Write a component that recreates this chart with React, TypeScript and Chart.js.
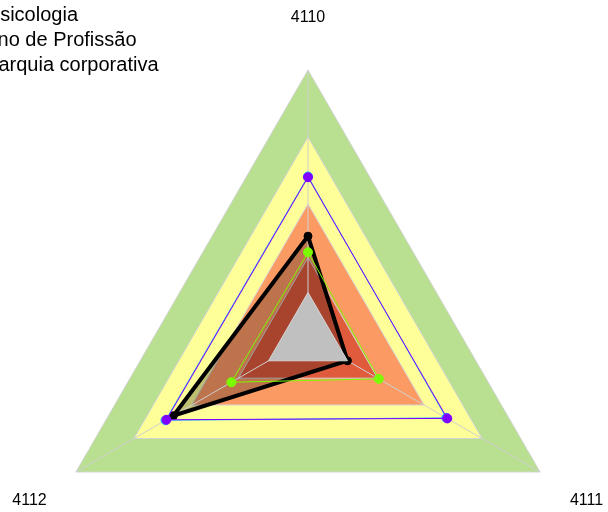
import React, { useEffect, useRef } from 'react';
import { Chart, registerables } from 'chart.js';

Chart.register(...registerables);

// Axis categories (clockwise from top)
const categories = ['4110', '4111', '4112'];

// Legend entries (cut off at the left edge in the reference)
const legendLabels = ['Psicologia', 'Ano de Profissão', 'Hierarquia corporativa'];

// Background band levels (outer to inner) and colours
const bandLevels = [100, 75, 50, 30, 17];
const bandColors = ['#b8e090', '#ffff99', '#fc9a64', '#e05a3c', '#c0c0c0'];

// Series values per category
const hierarquiaValues = [38, 17, 58];
const anoValues = [32, 30.5, 33];
const psicologiaValues = [60, 60, 61];
const psicologiaBValues = [60.3, 59.6, 61.4];

const FONT = '"Liberation Sans", Arial, Helvetica, sans-serif';

export default function App() {
  const ref = useRef<HTMLCanvasElement | null>(null);

  useEffect(() => {
    if (!ref.current) return;

    const bandDatasets = bandLevels.map((lvl, i) => ({
      label: 'band' + i,
      data: categories.map(() => lvl),
      backgroundColor: bandColors[i],
      borderColor: '#d4d4d4',
      borderWidth: 1,
      pointRadius: 0,
      fill: true,
      order: i === 4 ? 3 : 5 + (3 - i),
    }));

    const datasets: any[] = [
      {
        label: 'Psicologia',
        data: psicologiaValues,
        borderColor: '#8000ff',
        backgroundColor: '#8000ff',
        pointBackgroundColor: '#8000ff',
        pointBorderColor: '#8000ff',
        borderWidth: 1,
        pointRadius: 4.5,
        pointBorderWidth: 1,
        fill: false,
        order: 0,
      },
      {
        label: 'Psicologia B',
        data: psicologiaBValues,
        borderColor: '#22bbff',
        backgroundColor: '#22bbff',
        pointBackgroundColor: '#22bbff',
        pointBorderColor: '#22bbff',
        borderWidth: 1,
        pointRadius: 4.5,
        pointBorderWidth: 1,
        fill: false,
        order: 1,
      },
      {
        label: 'Ano de Profissão',
        data: anoValues,
        borderColor: '#7cfc00',
        backgroundColor: '#7cfc00',
        pointBackgroundColor: '#7cfc00',
        pointBorderColor: '#7cfc00',
        borderWidth: 1,
        pointRadius: 4.5,
        pointBorderWidth: 1,
        fill: false,
        order: 2,
      },
      {
        label: 'Hierarquia corporativa',
        data: hierarquiaValues,
        borderColor: '#000000',
        backgroundColor: 'rgba(0,0,0,0.25)',
        pointBackgroundColor: '#000000',
        pointBorderColor: '#000000',
        borderWidth: 4,
        pointRadius: 4,
        pointBorderWidth: 1,
        fill: true,
        order: 4,
      },
      ...bandDatasets,
    ];

    const blackIndex = 3;

    const overlay = {
      id: 'overlay',
      beforeDatasetDraw(chart: any, args: any) {
        if (args.index === blackIndex) {
          chart.scales.r.drawGrid(chart.chartArea);
        }
      },
      afterDraw(chart: any) {
        const ctx = chart.ctx as CanvasRenderingContext2D;
        const s = chart.scales.r;
        ctx.save();
        ctx.fillStyle = '#000';
        ctx.font = '16px ' + FONT;
        ctx.textAlign = 'center';
        ctx.textBaseline = 'middle';
        categories.forEach((c, i) => {
          const p = s.getPointPosition(i, s.drawingArea * 1.2);
          ctx.fillText(c, p.x, p.y + 1.5);
        });
        ctx.font = '20px ' + FONT;
        ctx.textAlign = 'right';
        ctx.textBaseline = 'alphabetic';
        const rights = [78, 136.5, 158.5];
        legendLabels.forEach((t, i) => {
          ctx.fillText(t, rights[i], 21 + i * 25);
        });
        ctx.restore();
      },
    };

    const chart = new Chart(ref.current, {
      type: 'radar',
      data: { labels: categories, datasets },
      options: {
        responsive: false,
        animation: false,
        events: [],
        layout: { padding: { left: 40, right: 32, top: 70, bottom: 14 } },
        elements: { line: { tension: 0 } },
        plugins: {
          legend: { display: false },
          tooltip: { enabled: false },
        },
        scales: {
          r: {
            min: 0,
            max: 100,
            ticks: { display: false, stepSize: 10 },
            grid: { display: false },
            angleLines: { display: true, color: '#d0d0d0', lineWidth: 1 },
            pointLabels: { display: false },
          },
        },
      },
      plugins: [overlay],
    });

    return () => chart.destroy();
  }, []);

  return (
    <div
      style={{
        position: 'fixed',
        left: 0,
        top: 0,
        width: 608,
        height: 512,
        overflow: 'hidden',
        background: '#fff',
      }}
    >
      <canvas ref={ref} width={608} height={620} style={{ display: 'block' }} />
    </div>
  );
}
